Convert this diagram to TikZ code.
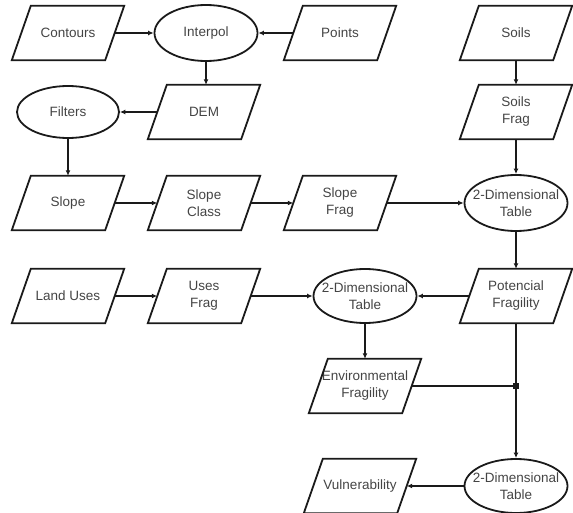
\documentclass[tikz,border=0pt]{standalone}
\usepackage{fontspec}
\setmainfont{Liberation Sans}
\usetikzlibrary{arrows.meta,shapes.geometric}
\definecolor{txt}{HTML}{444444}
\definecolor{ln}{HTML}{1A1A1A}
\newcommand{\zw}[1]{\makebox[0pt]{#1}}
\begin{document}
\begin{tikzpicture}[x=1pt,y=-1pt,
  every node/.style={font=\fontsize{13.5}{17}\selectfont, text=txt, align=center, inner sep=0pt},
  para/.style={rectangle, minimum width=93pt, minimum height=54pt},
  ell/.style={ellipse, draw=ln, line width=1.8pt, minimum width=103pt, minimum height=56pt},
  conn/.style={draw=ln, line width=1.9pt, -{Latex[length=5.5pt,width=5pt]}},
  plain/.style={draw=ln, line width=1.9pt},
  junc/.style={rectangle, fill=ln, minimum size=6.5pt, inner sep=0pt}]
\useasboundingbox (0,0) rectangle (573,513);
% row 1
\node[para] (contours) at (68,33) {Contours};
\node[ell]  (interpol) at (206,33) {\zw{Interpol}};
\node[para] (points) at (340,33) {Points};
\node[para] (soils) at (516,33) {Soils};
% row 2
\node[ell, minimum width=102pt, minimum height=52pt] (filters) at (68,112) {\zw{Filters}};
\node[para] (dem) at (204,112) {DEM};
\node[para] (soilsfrag) at (516,112) {Soils\\Frag};
% row 3
\node[para] (slope) at (68,203) {Slope};
\node[para] (slopeclass) at (204,203) {Slope\\Class};
\node[para] (slopefrag) at (340,203) {Slope\\Frag};
\node[ell] (table1) at (516,203) {\zw{2-Dimensional}\\\zw{Table}};
% row 4
\node[para] (landuses) at (68,296) {Land Uses};
\node[para] (usesfrag) at (204,296) {Uses\\Frag};
\node[ell, minimum height=54pt] (table2) at (365,296) {\zw{2-Dimensional}\\\zw{Table}};
\node[para] (potfrag) at (516,296) {Potencial\\Fragility};
% row 5
\node[para] (envfrag) at (365,386) {Environmental\\Fragility};
\node[junc] (junction) at (potfrag.south |- envfrag.east) {};
% row 6
\node[para] (vuln) at (360,486) {Vulnerability};
\node[ell, minimum height=54pt] (table3) at (516,486) {\zw{2-Dimensional}\\\zw{Table}};
% parallelogram outlines
\foreach \n in {contours,points,soils,dem,soilsfrag,slope,slopeclass,slopefrag,landuses,usesfrag,potfrag,envfrag,vuln}
  \draw[ln, line width=1.8pt, line join=miter]
    ([xshift=-9.5pt]\n.south west) -- ([xshift=-9.5pt]\n.south east) --
    ([xshift=9.5pt]\n.north east) -- ([xshift=9.5pt]\n.north west) -- cycle;
% connectors
\draw[conn] (contours.east) -- (interpol.west);
\draw[conn] (points.west) -- (interpol.east);
\draw[conn] (interpol.south) -- (dem.north -| interpol.south);
\draw[conn] (dem.west) -- (filters.east);
\draw[conn] (filters.south) -- (slope.north -| filters.south);
\draw[conn] (slope.east) -- (slopeclass.west);
\draw[conn] (slopeclass.east) -- (slopefrag.west);
\draw[conn] (slopefrag.east) -- (table1.west);
\draw[conn] (soils.south) -- (soilsfrag.north);
\draw[conn] (soilsfrag.south) -- (table1.north);
\draw[conn] (table1.south) -- (potfrag.north);
\draw[conn] (landuses.east) -- (usesfrag.west);
\draw[conn] (usesfrag.east) -- (table2.west);
\draw[conn] (potfrag.west) -- (table2.east);
\draw[conn] (table2.south) -- (envfrag.north -| table2.south);
\draw[conn] (potfrag.south) -- (table3.north);
\draw[plain] (envfrag.east) -- (junction.center);
\draw[conn] (table3.west) -- (vuln.east);
\end{tikzpicture}
\end{document}
